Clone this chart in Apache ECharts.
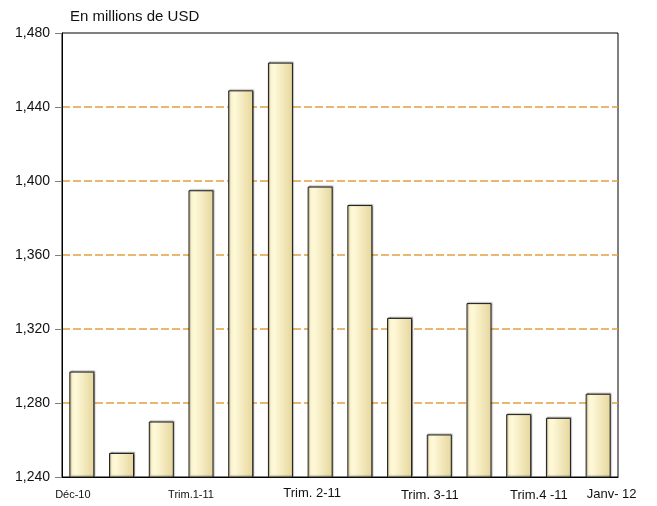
<!DOCTYPE html>
<html>
<head>
<meta charset="utf-8">
<script src="https://cdn.jsdelivr.net/npm/echarts@6/dist/echarts.min.js"></script>
<style>
html,body{margin:0;padding:0;background:#fff;}
#chart{width:657px;height:506px;}
</style>
</head>
<body>
<div id="chart"></div>
<script>
// Data (monthly, Dec-10 to Jan-12), millions of USD
var categories = ['2010-12','2011-01','2011-02','2011-03','2011-04','2011-05','2011-06','2011-07','2011-08','2011-09','2011-10','2011-11','2011-12','2012-01'];
var tickLabels = ['Déc-10','','','Trim.1-11','','','Trim. 2-11','','','Trim. 3-11','','','Trim.4 -11','Janv- 12'];
var values = [1297, 1253, 1270, 1395, 1449, 1464, 1397, 1387, 1326, 1263, 1334, 1274, 1272, 1285];
var yTicks = [1240, 1280, 1320, 1360, 1400, 1440, 1480];
var unitTitle = 'En millions de USD';

// Label styling per index (presentation only)
var labelStyleKey = ['s1','','','s2','','','b1','','','b2','','','b3','b4'];

var chart = echarts.init(document.getElementById('chart'), null, {renderer: 'canvas'});
var fontFam = 'Liberation Sans, Arial, sans-serif';
chart.setOption({
  animation: false,
  backgroundColor: '#ffffff',
  title: {
    text: unitTitle,
    left: 65,
    top: 4,
    textStyle: {fontSize: 15, fontWeight: 'normal', color: '#111', fontFamily: fontFam}
  },
  grid: {
    left: 62, right: 39, top: 33, bottom: 29,
    show: true, borderColor: '#000', borderWidth: 1, backgroundColor: 'transparent'
  },
  xAxis: {
    type: 'category',
    data: categories,
    axisLine: {show: true, lineStyle: {color: '#000', width: 1}},
    axisTick: {show: false},
    axisLabel: {
      interval: 0,
      margin: 10,
      color: '#111',
      fontFamily: fontFam,
      fontSize: 13,
      formatter: function (v, i) {
        var t = tickLabels[i];
        if (!t) return '';
        return '{' + labelStyleKey[i] + '|' + t + '}';
      },
      rich: {
        s1: {fontSize: 11, fontFamily: fontFam, color: '#111', padding: [2, 18, 0, 0]},
        s2: {fontSize: 11, fontFamily: fontFam, color: '#111', padding: [2, 20, 0, 0]},
        b1: {fontSize: 13, fontFamily: fontFam, color: '#111', padding: [0, 16, 0, 0]},
        b2: {fontSize: 13, fontFamily: fontFam, color: '#111', padding: [2, 19, 0, 0]},
        b3: {fontSize: 13, fontFamily: fontFam, color: '#111', padding: [2, 39, 0, 0]},
        b4: {fontSize: 13, fontFamily: fontFam, color: '#111', padding: [1, 0, 0, 27]}
      }
    }
  },
  yAxis: {
    type: 'value',
    min: yTicks[0],
    max: yTicks[yTicks.length - 1],
    interval: yTicks[1] - yTicks[0],
    axisLine: {show: true, lineStyle: {color: '#000', width: 1}},
    axisTick: {show: true, inside: false, length: 7, lineStyle: {color: '#808080', width: 1}},
    axisLabel: {
      margin: 12,
      color: '#111',
      fontSize: 14,
      fontFamily: fontFam,
      formatter: function (v) { return v.toLocaleString('en-US'); }
    },
    splitLine: {show: true, showMinLine: false, showMaxLine: false, lineStyle: {color: '#E3A040', width: 1.5, type: [8, 3]}}
  },
  series: [{
    type: 'bar',
    data: values,
    barWidth: 25,
    itemStyle: {
      color: {
        type: 'linear', x: 0, y: 0, x2: 1, y2: 0,
        colorStops: [
          {offset: 0, color: '#F9EFC2'},
          {offset: 0.25, color: '#FFF9D9'},
          {offset: 1, color: '#E5D69C'}
        ]
      },
      borderColor: '#1a1a1a',
      borderWidth: 1,
      shadowColor: 'rgba(0,0,0,0.3)',
      shadowBlur: 1,
      shadowOffsetX: 1,
      shadowOffsetY: -1
    }
  }]
});
</script>
</body>
</html>
